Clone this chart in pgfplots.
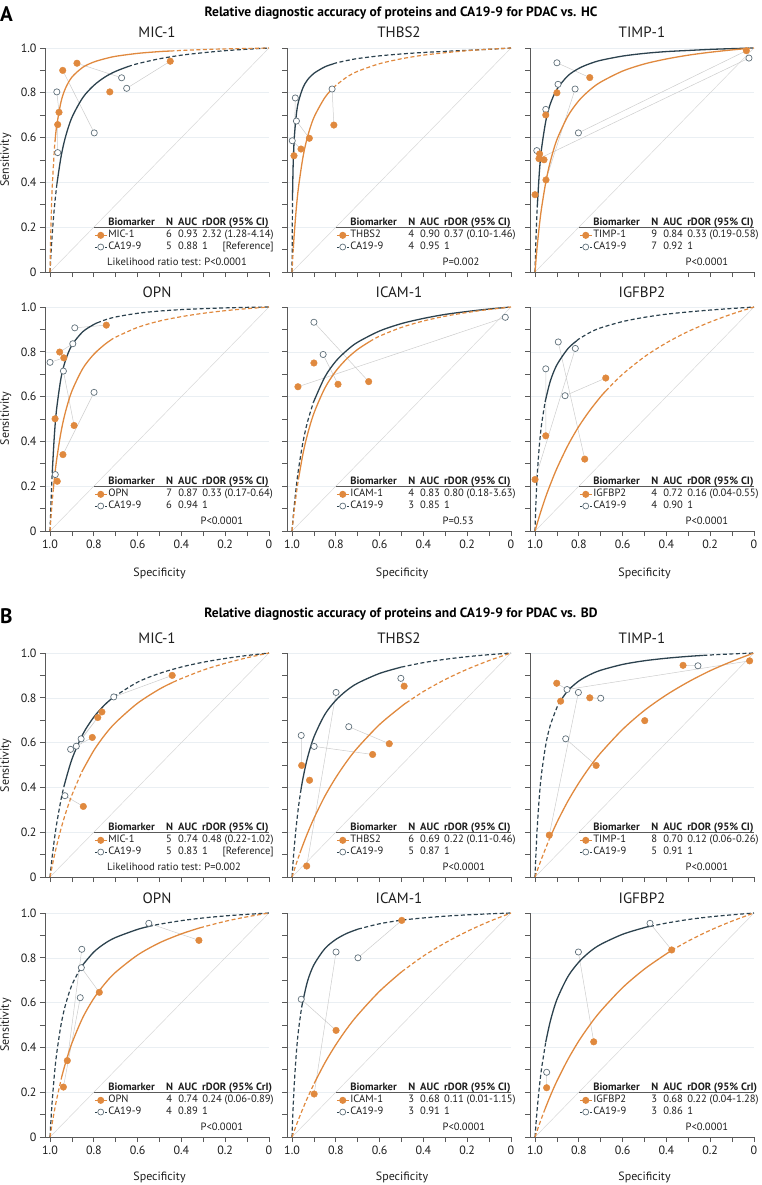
\documentclass[border=0pt]{standalone}
\usepackage{fontspec}
\setmainfont{PT Sans}
\usepackage{calc}
\usepackage{pgfplots}
\pgfplotsset{compat=1.18}

\definecolor{cor}{RGB}{224,137,62}
\definecolor{cdk}{RGB}{44,66,78}
\definecolor{copen}{RGB}{96,112,122}
\definecolor{cgrid}{RGB}{234,239,243}
\definecolor{clink}{RGB}{205,205,205}
\definecolor{cdiag}{RGB}{215,215,215}
\definecolor{caxis}{RGB}{90,90,90}
\definecolor{ctext}{RGB}{30,30,30}

\newcommand\legfont{\fontsize{10.6}{12}\selectfont}
\newcommand\tickfont{\fontsize{12}{14}\selectfont}
\newcommand\refbox{\makebox[\widthof{2.32 (1.28-4.14)}][l]{1\hfill[Reference]}}

% legend block: name, N, AUC, rDOR, N ca, AUC ca, rDOR ca, CI/CrI
\newcommand{\leg}[8]{%
  \addlegendimage{empty legend}
  \addlegendentry{\textbf{\makebox[58pt][l]{Biomarker}\makebox[12pt][l]{N}\makebox[24pt][l]{AUC}rDOR (95\% #8)}}
  \addlegendimage{legor}
  \addlegendentry{\makebox[58pt][l]{#1}\makebox[12pt][l]{#2}\makebox[24pt][l]{#3}#4}
  \addlegendimage{legdk}
  \addlegendentry{\makebox[58pt][l]{CA19-9}\makebox[12pt][l]{#5}\makebox[24pt][l]{#6}#7}
  \draw[caxis, line width=0.7pt] (axis description cs:0.219,0.2) -- (axis description cs:1,0.2);
}
\newcommand{\pval}[2]{\node[anchor=base west, font=\legfont, inner sep=0pt, text=ctext] at (axis description cs:#1,0.028) {#2};}

\pgfplotsset{
  legend image code/.code={\draw[mark repeat=2,mark phase=2,#1] plot coordinates {(0pt,0pt) (6pt,0pt) (12pt,0pt)};},
  legor/.style={cor, line width=1pt, mark=*, mark size=3pt, mark options={solid, fill=cor}},
  legdk/.style={cdk, line width=0.8pt, dash pattern=on 2pt off 1.5pt, mark=*, mark size=3pt, mark options={solid, fill=white, draw=copen, line width=0.7pt}},
  os/.style={cor, line width=1.3pt, smooth, tension=0.5, forget plot},
  od/.style={os, line width=1.2pt, dash pattern=on 4pt off 2.5pt},
  ks/.style={cdk, line width=1.3pt, smooth, tension=0.5, forget plot},
  kd/.style={ks, line width=1.2pt, dash pattern=on 4pt off 2.5pt},
  ptor/.style={only marks, mark=*, mark size=3.3pt, cor, forget plot},
  ptop/.style={only marks, mark=*, mark size=3.1pt, mark options={fill=white, draw=copen, line width=0.7pt}, forget plot},
  lnk/.style={clink, line width=0.5pt, unbounded coords=jump, forget plot},
  diag/.style={cdiag, line width=0.5pt, forget plot},
  panel/.style={
    scale only axis, width=224pt, height=224pt, anchor=south west,
    xmin=0, xmax=1.023, ymin=0, ymax=1, x dir=reverse,
    axis x line*=bottom, axis y line*=left,
    axis line style={caxis, line width=0.7pt},
    xtick={0,0.2,0.4,0.6,0.8,1}, ytick={0,0.2,0.4,0.6,0.8,1},
    minor xtick={0.1,0.3,0.5,0.7,0.9}, minor ytick={0.1,0.3,0.5,0.7,0.9},
    xticklabels={}, yticklabels={},
    tick align=outside, major tick length=5pt, minor tick length=5pt,
    tick style={caxis, line width=0.7pt},
    ymajorgrids, major grid style={cgrid, line width=0.6pt},
    tick label style={font=\tickfont, text=ctext},
    title style={font=\fontsize{15}{16}\selectfont, at={(axis description cs:0.5,1)}, anchor=base, yshift=4pt, inner sep=0pt, text=ctext},
    clip=false,
    legend cell align=left,
    legend style={draw=none, fill=none, at={(axis description cs:0.219,0.243)}, anchor=north west,
      inner sep=0pt, row sep=0pt, column sep=0pt, font=\legfont, text=ctext,
      nodes={inner xsep=1pt, inner ysep=0pt, text height=8pt, text depth=3.7pt}},
  },
  ylab/.style={yticklabels={0,0.2,0.4,0.6,0.8,1.0}},
  xlab/.style={xticklabels={0,0.2,0.4,0.6,0.8,1.0}},
}

\begin{document}
\begin{tikzpicture}
\path[use as bounding box] (0pt,0pt) rectangle (762pt,-1185pt);

\node[anchor=base west, font=\fontsize{21}{21}\selectfont\bfseries, inner sep=0pt] at (0pt,-22pt) {A};
\node[anchor=base, font=\fontsize{13.5}{14}\selectfont\bfseries, inner sep=0pt] at (401pt,-16.5pt) {Relative diagnostic accuracy of proteins and CA19-9 for PDAC vs. HC};
\node[anchor=base west, font=\fontsize{21}{21}\selectfont\bfseries, inner sep=0pt] at (0pt,-623pt) {B};
\node[anchor=base, font=\fontsize{13.5}{14}\selectfont\bfseries, inner sep=0pt] at (401pt,-617.5pt) {Relative diagnostic accuracy of proteins and CA19-9 for PDAC vs. BD};

% ---------------- A1 MIC-1 (HC)
\begin{axis}[panel, ylab, at={(45pt,-272pt)}, title={MIC-1}]
\addplot[diag] coordinates {(1,0) (0,1)};
\addplot[lnk] coordinates {(0.942,0.900) (0.798,0.621) (nan,nan) (0.877,0.932) (0.673,0.867) (nan,nan)
  (0.451,0.941) (0.650,0.820) (nan,nan) (0.959,0.713) (0.969,0.804) (nan,nan) (0.965,0.658) (0.965,0.533)};
\addplot[kd] coordinates {(1,0) (0.998,0.0385) (0.995,0.0913) (0.99,0.168) (0.98,0.290) (0.969,0.390)};
\addplot[ks] coordinates {(0.969,0.390) (0.95,0.513) (0.93,0.601) (0.9,0.690) (0.85,0.779) (0.8,0.833) (0.75,0.870) (0.7,0.896) (0.644,0.917)};
\addplot[kd] coordinates {(0.644,0.917) (0.6,0.930) (0.5,0.952) (0.4,0.968) (0.3,0.979) (0.2,0.988) (0.1,0.9945) (0,1)};
\addplot[od] coordinates {(1,0) (0.998,0.107) (0.995,0.232) (0.99,0.377) (0.98,0.550) (0.977,0.5855)};
\addplot[os] coordinates {(0.977,0.5855) (0.97,0.650) (0.95,0.759) (0.93,0.819) (0.9,0.870) (0.85,0.914) (0.8,0.9375) (0.75,0.952) (0.7,0.963) (0.6,0.976) (0.5,0.984) (0.45,0.9865)};
\addplot[od] coordinates {(0.45,0.9865) (0.4,0.989) (0.3,0.993) (0.2,0.996) (0.1,0.998) (0,1)};
\addplot[ptop] coordinates {(0.969,0.804) (0.798,0.621) (0.673,0.867) (0.650,0.820) (0.965,0.533)};
\addplot[ptor] coordinates {(0.942,0.900) (0.877,0.932) (0.959,0.713) (0.965,0.658) (0.727,0.804) (0.451,0.941)};
\leg{MIC-1}{6}{0.93}{2.32 (1.28-4.14)}{5}{0.88}{\refbox}{CI}
\pval{0.277}{Likelihood ratio test: P<0.0001}
\end{axis}

% ---------------- A2 THBS2 (HC)
\begin{axis}[panel, at={(287pt,-272pt)}, title={THBS2}]
\addplot[diag] coordinates {(1,0) (0,1)};
\addplot[lnk] coordinates {(0.985,0.777) (0.991,0.519) (nan,nan) (0.980,0.674) (0.921,0.597) (nan,nan)
  (0.999,0.586) (0.959,0.549) (nan,nan) (0.817,0.817) (0.809,0.656)};
\addplot[kd] coordinates {(1,0) (0.998,0.321)};
\addplot[ks] coordinates {(0.998,0.321) (0.995,0.474) (0.99,0.595) (0.98,0.706) (0.97,0.763) (0.95,0.823) (0.93,0.857) (0.9,0.887) (0.85,0.916) (0.812,0.929)};
\addplot[kd] coordinates {(0.812,0.929) (0.8,0.933) (0.75,0.944) (0.7,0.953) (0.6,0.965) (0.5,0.9734) (0.4,0.980) (0.3,0.985) (0.2,0.9897) (0.1,0.9942) (0,1)};
\addplot[od] coordinates {(1,0) (0.998,0.0385) (0.994,0.1077)};
\addplot[os] coordinates {(0.994,0.1077) (0.99,0.168) (0.98,0.290) (0.97,0.382) (0.95,0.513) (0.93,0.601) (0.9,0.690) (0.85,0.779) (0.812,0.822)};
\addplot[od] coordinates {(0.812,0.822) (0.8,0.833) (0.75,0.870) (0.7,0.896) (0.6,0.930) (0.5,0.952) (0.4,0.968) (0.3,0.979) (0.2,0.988) (0.1,0.9945) (0,1)};
\addplot[ptop] coordinates {(0.985,0.777) (0.980,0.674) (0.999,0.586) (0.817,0.817)};
\addplot[ptor] coordinates {(0.991,0.519) (0.959,0.549) (0.921,0.597) (0.809,0.656)};
\leg{THBS2}{4}{0.90}{0.37 (0.10-1.46)}{4}{0.95}{1}{CI}
\pval{0.694}{P=0.002}
\end{axis}

% ---------------- A3 TIMP-1 (HC)
\begin{axis}[panel, at={(530pt,-272pt)}, title={TIMP-1}]
\addplot[diag] coordinates {(1,0) (0,1)};
\addplot[lnk] coordinates {(0.035,0.988) (0.802,0.621) (nan,nan) (0.023,0.955) (0.982,0.506) (nan,nan)
  (0.750,0.868) (0.900,0.934) (nan,nan) (0.900,0.800) (0.895,0.838) (nan,nan) (0.951,0.701) (0.951,0.726) (nan,nan)
  (0.979,0.527) (0.992,0.542) (nan,nan) (0.950,0.411) (0.817,0.817)};
\addplot[kd] coordinates {(1,0) (0.998,0.0742) (0.995,0.167) (0.99,0.288)};
\addplot[ks] coordinates {(0.99,0.288) (0.98,0.449) (0.97,0.553) (0.95,0.678) (0.93,0.751) (0.9,0.816) (0.85,0.876) (0.8,0.909) (0.75,0.930) (0.7,0.945) (0.6,0.964) (0.5,0.976) (0.4,0.984) (0.3,0.989) (0.2,0.9938) (0.1,0.9972) (0.023,0.9994)};
\addplot[kd] coordinates {(0.023,0.9994) (0,1)};
\addplot[os] coordinates {(1,0) (0.998,0.0254) (0.995,0.0613) (0.99,0.116) (0.98,0.210) (0.97,0.287) (0.95,0.406) (0.93,0.494) (0.9,0.591) (0.85,0.696) (0.8,0.765) (0.75,0.8125) (0.7,0.848) (0.6,0.897) (0.5,0.929) (0.4,0.951) (0.3,0.968) (0.2,0.981) (0.1,0.9915) (0.035,0.9972)};
\addplot[od] coordinates {(0.035,0.9972) (0,1)};
\addplot[ptop] coordinates {(0.023,0.955) (0.900,0.934) (0.895,0.838) (0.817,0.817) (0.951,0.726) (0.992,0.542) (0.802,0.621)};
\addplot[ptor] coordinates {(0.035,0.988) (0.750,0.868) (0.900,0.800) (0.951,0.701) (0.979,0.527) (0.982,0.506) (0.959,0.501) (0.950,0.411) (1.0,0.345)};
\leg{TIMP-1}{9}{0.84}{0.33 (0.19-0.58)}{7}{0.92}{1}{CI}
\pval{0.694}{P<0.0001}
\end{axis}

% ---------------- A4 OPN (HC)
\begin{axis}[panel, ylab, xlab, at={(45pt,-531pt)}, title={OPN}]
\addplot[diag] coordinates {(1,0) (0,1)};
\addplot[lnk] coordinates {(0.887,0.907) (0.743,0.919) (nan,nan) (0.896,0.836) (0.956,0.799) (nan,nan)
  (1.0,0.753) (0.937,0.773) (nan,nan) (0.939,0.714) (0.890,0.471) (nan,nan) (0.799,0.619) (0.941,0.341) (nan,nan)
  (0.976,0.252) (0.967,0.222)};
\addplot[kd] coordinates {(1,0) (0.998,0.0555) (0.995,0.139) (0.99,0.258)};
\addplot[ks] coordinates {(0.99,0.258) (0.98,0.430) (0.97,0.544) (0.95,0.682) (0.93,0.760) (0.9,0.830) (0.85,0.890) (0.8,0.922) (0.785,0.929)};
\addplot[kd] coordinates {(0.785,0.929) (0.75,0.942) (0.7,0.9556) (0.6,0.972) (0.5,0.982) (0.4,0.9884) (0.3,0.9928) (0.2,0.996) (0.1,0.9984) (0,1)};
\addplot[od] coordinates {(1,0) (0.998,0.0292) (0.995,0.070) (0.99,0.132) (0.985,0.186)};
\addplot[os] coordinates {(0.985,0.186) (0.98,0.234) (0.97,0.317) (0.95,0.441) (0.93,0.530) (0.9,0.625) (0.85,0.726) (0.8,0.789) (0.75,0.833) (0.726,0.850)};
\addplot[od] coordinates {(0.726,0.850) (0.7,0.8655) (0.6,0.909) (0.5,0.9375) (0.4,0.957) (0.3,0.972) (0.2,0.9836) (0.1,0.9926) (0,1)};
\addplot[ptop] coordinates {(0.887,0.907) (0.896,0.836) (1.0,0.753) (0.939,0.714) (0.799,0.619) (0.976,0.252)};
\addplot[ptor] coordinates {(0.743,0.919) (0.956,0.799) (0.937,0.773) (0.977,0.501) (0.890,0.471) (0.941,0.341) (0.967,0.222)};
\leg{OPN}{7}{0.87}{0.33 (0.17-0.64)}{6}{0.94}{1}{CI}
\pval{0.694}{P<0.0001}
\end{axis}

% ---------------- A5 ICAM-1 (HC)
\begin{axis}[panel, xlab, at={(287pt,-531pt)}, title={ICAM-1}]
\addplot[diag] coordinates {(1,0) (0,1)};
\addplot[lnk] coordinates {(0.900,0.932) (0.650,0.667) (nan,nan) (0.858,0.788) (0.790,0.655) (nan,nan)
  (0.026,0.954) (0.973,0.644)};
\addplot[kd] coordinates {(1,0) (0.998,0.0244) (0.995,0.059) (0.99,0.112) (0.98,0.203) (0.97,0.279) (0.95,0.397) (0.93,0.485) (0.903,0.573)};
\addplot[ks] coordinates {(0.903,0.573) (0.85,0.688) (0.8,0.758) (0.75,0.806) (0.7,0.843) (0.6,0.893) (0.5,0.926) (0.4,0.949) (0.3,0.967) (0.2,0.980) (0.1,0.991) (0.026,0.9979)};
\addplot[kd] coordinates {(0.026,0.9979) (0,1)};
\addplot[od] coordinates {(1,0) (0.998,0.0196) (0.995,0.0478) (0.99,0.0917) (0.98,0.169) (0.971,0.230)};
\addplot[os] coordinates {(0.971,0.230) (0.95,0.345) (0.93,0.429) (0.9,0.526) (0.85,0.638) (0.8,0.714) (0.75,0.769) (0.7,0.811) (0.645,0.846)};
\addplot[od] coordinates {(0.645,0.846) (0.6,0.870) (0.5,0.909) (0.4,0.9375) (0.3,0.959) (0.2,0.9756) (0.1,0.989) (0,1)};
\addplot[ptop] coordinates {(0.900,0.932) (0.858,0.788) (0.026,0.954)};
\addplot[ptor] coordinates {(0.973,0.644) (0.900,0.750) (0.790,0.655) (0.650,0.667)};
\leg{ICAM-1}{4}{0.83}{0.80 (0.18-3.63)}{3}{0.85}{1}{CI}
\pval{0.694}{P=0.53}
\end{axis}

% ---------------- A6 IGFBP2 (HC)
\begin{axis}[panel, xlab, at={(530pt,-531pt)}, title={IGFBP2}]
\addplot[diag] coordinates {(1,0) (0,1)};
\addplot[lnk] coordinates {(0.894,0.844) (0.773,0.321) (nan,nan) (0.951,0.724) (0.951,0.425) (nan,nan)
  (0.816,0.815) (1.0,0.230) (nan,nan) (0.863,0.604) (0.677,0.683)};
\addplot[kd] coordinates {(1,0) (0.998,0.072) (0.995,0.151) (0.99,0.250) (0.98,0.385) (0.97,0.477) (0.954,0.576)};
\addplot[ks] coordinates {(0.954,0.576) (0.93,0.670) (0.9,0.742) (0.85,0.814) (0.81,0.849)};
\addplot[kd] coordinates {(0.81,0.849) (0.8,0.857) (0.75,0.886) (0.7,0.907) (0.6,0.935) (0.5,0.954) (0.4,0.968) (0.3,0.978) (0.2,0.9864) (0.1,0.9934) (0,1)};
\addplot[os] coordinates {(1,0) (0.99,0.0341) (0.98,0.0667) (0.97,0.0977) (0.95,0.156) (0.93,0.208) (0.9,0.28) (0.85,0.382) (0.8,0.467) (0.75,0.538) (0.7,0.600) (0.677,0.625)};
\addplot[od] coordinates {(0.677,0.625) (0.6,0.700) (0.5,0.778) (0.4,0.840) (0.3,0.891) (0.2,0.933) (0.1,0.969) (0,1)};
\addplot[ptop] coordinates {(0.894,0.844) (0.951,0.724) (0.816,0.815) (0.863,0.604)};
\addplot[ptor] coordinates {(0.677,0.683) (0.951,0.425) (0.773,0.321) (1.0,0.230)};
\leg{IGFBP2}{4}{0.72}{0.16 (0.04-0.55)}{4}{0.90}{1}{CI}
\pval{0.694}{P<0.0001}
\end{axis}

% ---------------- B1 MIC-1 (BD)
\begin{axis}[panel, ylab, at={(45pt,-877pt)}, title={MIC-1}]
\addplot[diag] coordinates {(1,0) (0,1)};
\addplot[lnk] coordinates {(0.709,0.804) (0.442,0.900) (nan,nan) (0.858,0.617) (0.782,0.712) (nan,nan)
  (0.880,0.584) (0.763,0.737) (nan,nan) (0.906,0.570) (0.807,0.623) (nan,nan) (0.932,0.363) (0.848,0.315)};
\addplot[kd] coordinates {(1,0) (0.998,0.0196) (0.995,0.0478) (0.99,0.0917) (0.98,0.169) (0.97,0.236) (0.95,0.345) (0.936,0.406)};
\addplot[ks] coordinates {(0.936,0.406) (0.9,0.526) (0.85,0.638) (0.8,0.714) (0.75,0.769) (0.709,0.804)};
\addplot[kd] coordinates {(0.709,0.804) (0.6,0.870) (0.5,0.909) (0.4,0.9375) (0.3,0.959) (0.2,0.9756) (0.1,0.989) (0,1)};
\addplot[od] coordinates {(1,0) (0.99,0.0499) (0.98,0.0959) (0.97,0.1386) (0.95,0.215) (0.93,0.281) (0.9,0.366) (0.855,0.469)};
\addplot[os] coordinates {(0.855,0.469) (0.8,0.565) (0.75,0.634) (0.7,0.690) (0.6,0.776) (0.5,0.839) (0.437,0.870)};
\addplot[od] coordinates {(0.437,0.870) (0.4,0.886) (0.3,0.924) (0.2,0.954) (0.1,0.979) (0,1)};
\addplot[ptop] coordinates {(0.709,0.804) (0.858,0.617) (0.880,0.584) (0.906,0.570) (0.932,0.363)};
\addplot[ptor] coordinates {(0.442,0.900) (0.763,0.737) (0.782,0.712) (0.807,0.623) (0.848,0.315)};
\leg{MIC-1}{5}{0.74}{0.48 (0.22-1.02)}{5}{0.83}{\refbox}{CI}
\pval{0.277}{Likelihood ratio test: P=0.002}
\end{axis}

% ---------------- B2 THBS2 (BD)
\begin{axis}[panel, at={(287pt,-877pt)}, title={THBS2}]
\addplot[diag] coordinates {(1,0) (0,1)};
\addplot[lnk] coordinates {(0.503,0.887) (0.488,0.852) (nan,nan) (0.741,0.671) (0.556,0.595) (nan,nan)
  (0.958,0.632) (0.956,0.498) (nan,nan) (0.899,0.583) (0.632,0.547) (nan,nan) (0.799,0.824) (0.933,0.049)};
\addplot[kd] coordinates {(1,0) (0.998,0.0292) (0.995,0.070) (0.99,0.132) (0.98,0.234) (0.97,0.317) (0.96,0.385)};
\addplot[ks] coordinates {(0.96,0.385) (0.95,0.441) (0.93,0.530) (0.9,0.625) (0.85,0.726) (0.8,0.789) (0.75,0.833) (0.7,0.8655) (0.6,0.909) (0.501,0.937)};
\addplot[kd] coordinates {(0.501,0.937) (0.4,0.957) (0.3,0.972) (0.2,0.9836) (0.1,0.9926) (0,1)};
\addplot[od] coordinates {(1,0) (0.99,0.0313) (0.98,0.0613) (0.97,0.0901) (0.964,0.1067)};
\addplot[os] coordinates {(0.964,0.1067) (0.95,0.144) (0.93,0.194) (0.9,0.262) (0.85,0.361) (0.8,0.444) (0.75,0.516) (0.7,0.578) (0.6,0.681) (0.5,0.762) (0.479,0.777)};
\addplot[od] coordinates {(0.479,0.777) (0.4,0.828) (0.3,0.882) (0.2,0.9275) (0.1,0.9664) (0,1)};
\addplot[ptop] coordinates {(0.503,0.887) (0.799,0.824) (0.741,0.671) (0.958,0.632) (0.899,0.583)};
\addplot[ptor] coordinates {(0.488,0.852) (0.556,0.595) (0.632,0.547) (0.956,0.498) (0.920,0.432) (0.933,0.049)};
\leg{THBS2}{6}{0.69}{0.22 (0.11-0.46)}{5}{0.87}{1}{CI}
\pval{0.694}{P<0.0001}
\end{axis}

% ---------------- B3 TIMP-1 (BD)
\begin{axis}[panel, at={(530pt,-877pt)}, title={TIMP-1}]
\addplot[diag] coordinates {(1,0) (0,1)};
\addplot[lnk] coordinates {(0.256,0.943) (0.324,0.945) (nan,nan) (0.854,0.837) (0.020,0.965) (nan,nan)
  (0.854,0.837) (0.901,0.865) (nan,nan) (0.802,0.824) (0.935,0.187) (nan,nan) (0.700,0.798) (0.750,0.800) (nan,nan)
  (0.860,0.617) (0.721,0.498)};
\addplot[kd] coordinates {(1,0) (0.998,0.0531) (0.995,0.123) (0.99,0.220) (0.98,0.364) (0.97,0.464) (0.95,0.596) (0.93,0.678) (0.9,0.757) (0.886,0.783)};
\addplot[ks] coordinates {(0.886,0.783) (0.85,0.832) (0.8,0.875) (0.75,0.903) (0.7,0.923) (0.6,0.949) (0.5,0.9655) (0.4,0.9767) (0.3,0.985) (0.231,0.9894)};
\addplot[kd] coordinates {(0.231,0.9894) (0.2,0.9912) (0.1,0.996) (0,1)};
\addplot[od] coordinates {(1,0) (0.99,0.0285) (0.98,0.0559) (0.97,0.0823) (0.95,0.132) (0.935,0.168)};
\addplot[os] coordinates {(0.935,0.168) (0.9,0.244) (0.85,0.3385) (0.8,0.420) (0.75,0.4915) (0.7,0.554) (0.6,0.659) (0.5,0.744) (0.4,0.813) (0.3,0.871) (0.2,0.921) (0.1,0.963) (0.02,0.993)};
\addplot[od] coordinates {(0.02,0.993) (0,1)};
\addplot[ptop] coordinates {(0.256,0.943) (0.854,0.837) (0.802,0.824) (0.700,0.798) (0.860,0.617)};
\addplot[ptor] coordinates {(0.020,0.965) (0.324,0.945) (0.901,0.865) (0.883,0.785) (0.750,0.800) (0.499,0.698) (0.721,0.498) (0.935,0.187)};
\leg{TIMP-1}{8}{0.70}{0.12 (0.06-0.26)}{5}{0.91}{1}{CI}
\pval{0.694}{P<0.0001}
\end{axis}

% ---------------- B4 OPN (BD)
\begin{axis}[panel, ylab, xlab, at={(45pt,-1137pt)}, title={OPN}]
\addplot[diag] coordinates {(1,0) (0,1)};
\addplot[lnk] coordinates {(0.549,0.954) (0.320,0.878) (nan,nan) (0.857,0.756) (0.775,0.646) (nan,nan)
  (0.855,0.838) (0.921,0.341) (nan,nan) (0.862,0.622) (0.939,0.223)};
\addplot[kd] coordinates {(1,0) (0.998,0.0367) (0.995,0.0872) (0.99,0.161) (0.98,0.279) (0.97,0.370) (0.95,0.5) (0.93,0.588) (0.9,0.679) (0.855,0.763)};
\addplot[ks] coordinates {(0.855,0.763) (0.8,0.826) (0.75,0.864) (0.7,0.891) (0.6,0.927) (0.549,0.940)};
\addplot[kd] coordinates {(0.549,0.940) (0.5,0.95) (0.4,0.966) (0.3,0.978) (0.2,0.987) (0.1,0.994) (0,1)};
\addplot[od] coordinates {(1,0) (0.99,0.0616) (0.98,0.117) (0.97,0.167) (0.947,0.267)};
\addplot[os] coordinates {(0.947,0.267) (0.93,0.328) (0.9,0.419) (0.85,0.534) (0.8,0.619) (0.75,0.684) (0.7,0.736) (0.6,0.8125) (0.5,0.867) (0.4,0.907) (0.315,0.934)};
\addplot[od] coordinates {(0.315,0.934) (0.2,0.963) (0.1,0.983) (0,1)};
\addplot[ptop] coordinates {(0.549,0.954) (0.855,0.838) (0.857,0.756) (0.862,0.622)};
\addplot[ptor] coordinates {(0.320,0.878) (0.775,0.646) (0.921,0.341) (0.939,0.223)};
\leg{OPN}{4}{0.74}{0.24 (0.06-0.89)}{4}{0.89}{1}{CrI}
\pval{0.694}{P<0.0001}
\end{axis}

% ---------------- B5 ICAM-1 (BD)
\begin{axis}[panel, xlab, at={(287pt,-1137pt)}, title={ICAM-1}]
\addplot[diag] coordinates {(1,0) (0,1)};
\addplot[lnk] coordinates {(0.699,0.800) (0.499,0.967) (nan,nan) (0.799,0.826) (0.899,0.192) (nan,nan)
  (0.958,0.615) (0.799,0.476)};
\addplot[kd] coordinates {(1,0) (0.998,0.0567) (0.995,0.131) (0.99,0.233) (0.98,0.380) (0.97,0.481) (0.956,0.580)};
\addplot[ks] coordinates {(0.956,0.580) (0.93,0.693) (0.9,0.769) (0.85,0.841) (0.8,0.882) (0.75,0.909) (0.699,0.928)};
\addplot[kd] coordinates {(0.699,0.928) (0.6,0.952) (0.5,0.968) (0.4,0.978) (0.3,0.986) (0.2,0.9917) (0.1,0.9963) (0,1)};
\addplot[od] coordinates {(1,0) (0.99,0.0275) (0.98,0.054) (0.97,0.0797) (0.95,0.128) (0.93,0.174) (0.899,0.239)};
\addplot[os] coordinates {(0.899,0.239) (0.85,0.331) (0.8,0.412) (0.75,0.483) (0.7,0.545) (0.6,0.651) (0.499,0.738)};
\addplot[od] coordinates {(0.499,0.738) (0.4,0.808) (0.3,0.867) (0.2,0.918) (0.1,0.962) (0,1)};
\addplot[ptop] coordinates {(0.799,0.826) (0.699,0.800) (0.958,0.615)};
\addplot[ptor] coordinates {(0.499,0.967) (0.799,0.476) (0.899,0.192)};
\leg{ICAM-1}{3}{0.68}{0.11 (0.01-1.15)}{3}{0.91}{1}{CI}
\pval{0.694}{P<0.0001}
\end{axis}

% ---------------- B6 IGFBP2 (BD)
\begin{axis}[panel, xlab, at={(530pt,-1137pt)}, title={IGFBP2}]
\addplot[diag] coordinates {(1,0) (0,1)};
\addplot[lnk] coordinates {(0.475,0.954) (0.376,0.835) (nan,nan) (0.802,0.826) (0.732,0.425) (nan,nan)
  (0.947,0.289) (0.947,0.220)};
\addplot[kd] coordinates {(1,0) (0.998,0.0279) (0.995,0.067) (0.99,0.126) (0.98,0.226) (0.97,0.307) (0.951,0.424)};
\addplot[ks] coordinates {(0.951,0.424) (0.93,0.518) (0.9,0.614) (0.85,0.716) (0.8,0.781) (0.75,0.827) (0.7,0.860) (0.6,0.905) (0.5,0.935) (0.475,0.940)};
\addplot[kd] coordinates {(0.475,0.940) (0.4,0.955) (0.3,0.971) (0.2,0.983) (0.1,0.992) (0,1)};
\addplot[od] coordinates {(1,0) (0.99,0.0294) (0.98,0.0577) (0.97,0.0849) (0.954,0.126)};
\addplot[os] coordinates {(0.954,0.126) (0.93,0.184) (0.9,0.25) (0.85,0.346) (0.8,0.429) (0.75,0.5) (0.7,0.5625) (0.6,0.667) (0.5,0.75) (0.4,0.818) (0.376,0.833)};
\addplot[od] coordinates {(0.376,0.833) (0.3,0.875) (0.2,0.923) (0.1,0.964) (0,1)};
\addplot[ptop] coordinates {(0.475,0.954) (0.802,0.826) (0.947,0.289)};
\addplot[ptor] coordinates {(0.376,0.835) (0.732,0.425) (0.947,0.220)};
\leg{IGFBP2}{3}{0.68}{0.22 (0.04-1.28)}{3}{0.86}{1}{CrI}
\pval{0.694}{P<0.0001}
\end{axis}

% axis labels
\foreach \yc in {160,418.5,765.5,1025}
  \node[rotate=90, anchor=base, font=\fontsize{12}{14}\selectfont, text=ctext, inner sep=0pt] at (9pt,-\yc pt) {Sensitivity};
\foreach \xc in {159.5,402,644.5} {
  \node[anchor=base, font=\fontsize{12}{14}\selectfont, text=ctext, inner sep=0pt] at (\xc pt,-576pt) {Specificity};
  \node[anchor=base, font=\fontsize{12}{14}\selectfont, text=ctext, inner sep=0pt] at (\xc pt,-1180pt) {Specificity};
}
\end{tikzpicture}
\end{document}
